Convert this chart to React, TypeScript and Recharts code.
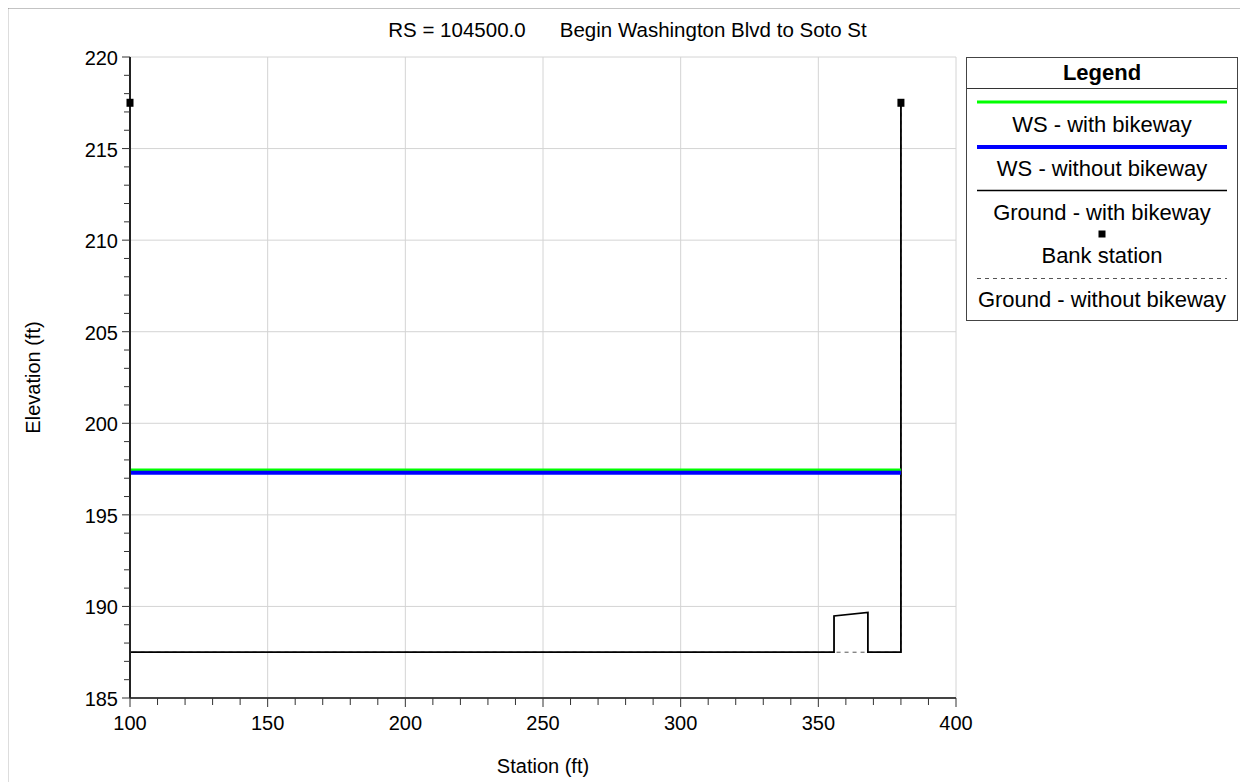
import React from 'react';
import { ComposedChart, Line, XAxis, YAxis, CartesianGrid, Label } from 'recharts';

const titleText = 'RS = 104500.0      Begin Washington Blvd to Soto St';
const xAxisTitle = 'Station (ft)';
const yAxisTitle = 'Elevation (ft)';

const xTicks = [100, 110, 120, 130, 140, 150, 160, 170, 180, 190, 200, 210, 220, 230, 240, 250, 260, 270, 280, 290, 300, 310, 320, 330, 340, 350, 360, 370, 380, 390, 400];
const yTicks = [185, 186, 187, 188, 189, 190, 191, 192, 193, 194, 195, 196, 197, 198, 199, 200, 201, 202, 203, 204, 205, 206, 207, 208, 209, 210, 211, 212, 213, 214, 215, 216, 217, 218, 219, 220];
const xGrid = [150, 200, 250, 300, 350, 400];
const yGrid = [190, 195, 200, 205, 210, 215, 220];

const groundWithStation = [100, 100, 355.7, 355.7, 368, 368, 380, 380];
const groundWithElev = [217.5, 187.5, 187.5, 189.48, 189.67, 187.5, 187.5, 217.5];
const groundWithoutStation = [100, 100, 380, 380];
const groundWithoutElev = [217.5, 187.5, 187.5, 217.5];
const wsStation = [100, 380];
const wsWithElev = [197.45, 197.45];
const wsWithoutElev = [197.3, 197.3];
const bankStation = [100, 380];
const bankElev = [217.5, 217.5];

const legendLabels = ['WS - with bikeway', 'WS - without bikeway', 'Ground - with bikeway', 'Bank station', 'Ground - without bikeway'];

const zip = (xs: number[], ys: number[]) => xs.map((x, i) => ({ x, y: ys[i] }));
const groundWith = zip(groundWithStation, groundWithElev);
const groundWithout = zip(groundWithoutStation, groundWithoutElev);
const wsWith = zip(wsStation, wsWithElev);
const wsWithout = zip(wsStation, wsWithoutElev);
const banks = zip(bankStation, bankElev);

const FONT = '"Liberation Sans", Arial, sans-serif';

const XTick = (props: any) => {
  const { x, y, payload } = props;
  const major = payload.value % 50 === 0;
  return (
    <g>
      <line x1={x} x2={x} y1={y} y2={y + (major ? 9 : 7)} stroke="#333" strokeWidth={1} />
      {major && (
        <text x={x} y={y + 32} textAnchor="middle" fontFamily={FONT} fontSize={20} fill="#000">
          {payload.value}
        </text>
      )}
    </g>
  );
};

const YTick = (props: any) => {
  const { x, y, payload } = props;
  const major = payload.value % 5 === 0;
  return (
    <g>
      <line x1={x} x2={x - (major ? 8 : 6)} y1={y} y2={y} stroke="#333" strokeWidth={1} />
      {major && (
        <text x={x - 12} y={y + 8} textAnchor="end" fontFamily={FONT} fontSize={20} fill="#000">
          {payload.value}
        </text>
      )}
    </g>
  );
};

const SquareDot = (props: any) => {
  const { cx, cy } = props;
  if (cx == null || cy == null) return null;
  return <rect x={cx - 3.5} y={cy - 4} width={7} height={8} fill="#000" />;
};

const Legend = () => {
  const w = 272;
  const c = w / 2;
  const t = { fontFamily: FONT, fontSize: 22, fill: '#000', textAnchor: 'middle' as const };
  return (
    <div style={{ position: 'absolute', left: 958, top: 49, width: w, height: 264, border: '1px solid #444', boxSizing: 'border-box', background: '#fff' }}>
      <svg width={w - 2} height={262} style={{ display: 'block' }}>
        <text x={c - 1} y={22} {...t} fontWeight="bold">Legend</text>
        <line x1={0} x2={w} y1={30.5} y2={30.5} stroke="#333" strokeWidth={1} />
        <line x1={10} x2={w - 12} y1={44} y2={44} stroke="#00ff00" strokeWidth={3} />
        <text x={c - 1} y={73.5} {...t}>{legendLabels[0]}</text>
        <line x1={10} x2={w - 12} y1={89} y2={89} stroke="#0000ff" strokeWidth={4} />
        <text x={c - 1} y={117.5} {...t}>{legendLabels[1]}</text>
        <line x1={10} x2={w - 12} y1={132.5} y2={132.5} stroke="#000" strokeWidth={1.5} />
        <text x={c - 1} y={161.5} {...t}>{legendLabels[2]}</text>
        <rect x={c - 4.5} y={172.5} width={7} height={7} fill="#000" />
        <text x={c - 1} y={204.5} {...t}>{legendLabels[3]}</text>
        <line x1={10} x2={w - 12} y1={220.5} y2={220.5} stroke="#555" strokeWidth={1} strokeDasharray="4 4" />
        <text x={c - 1} y={248.5} {...t}>{legendLabels[4]}</text>
      </svg>
    </div>
  );
};

export default function App() {
  return (
    <div style={{ position: 'relative', width: 1240, height: 774 }}>
      <div style={{ position: 'absolute', left: -1, top: 10, width: 1241, textAlign: 'center', fontFamily: FONT, fontSize: 20.5, whiteSpace: 'pre', color: '#000' }}>
        {titleText}
      </div>
      <div style={{ position: 'absolute', left: -1, top: -1 }}>
        <ComposedChart width={1241} height={775} margin={{ top: 50, right: 292, bottom: 24, left: 43 }}>
          <CartesianGrid horizontalValues={yGrid} verticalValues={xGrid} stroke="#d4d4d4" strokeWidth={1} />
          <XAxis
            type="number"
            dataKey="x"
            domain={[100, 400]}
            ticks={xTicks}
            interval={0}
            height={60}
            tickSize={0}
            tickMargin={0}
            tick={<XTick />}
            axisLine={{ stroke: '#444', strokeWidth: 2 }}
            tickLine={false}
          >
            <Label
              content={(p: any) => (
                <text x={p.viewBox.x + p.viewBox.width / 2} y={p.viewBox.y + 75} textAnchor="middle" fontFamily={FONT} fontSize={20} fill="#000">
                  {xAxisTitle}
                </text>
              )}
            />
          </XAxis>
          <YAxis
            type="number"
            dataKey="y"
            domain={[185, 220]}
            ticks={yTicks}
            interval={0}
            width={80}
            tickSize={0}
            tickMargin={0}
            tick={<YTick />}
            axisLine={{ stroke: '#222', strokeWidth: 2 }}
            tickLine={false}
          >
            <Label
              content={(p: any) => {
                const cx = p.viewBox.x - 17;
                const cy = p.viewBox.y + p.viewBox.height / 2;
                return (
                  <text x={cx} y={cy} transform={`rotate(-90 ${cx} ${cy})`} textAnchor="middle" dominantBaseline="central" fontFamily={FONT} fontSize={20} fill="#000">
                    {yAxisTitle}
                  </text>
                );
              }}
            />
          </YAxis>
          <Line data={groundWithout} dataKey="y" type="linear" stroke="#555" strokeWidth={1} strokeDasharray="4 4" dot={false} activeDot={false} isAnimationActive={false} />
          <Line data={groundWith} dataKey="y" type="linear" stroke="#000" strokeWidth={1.8} dot={false} activeDot={false} isAnimationActive={false} />
          <Line data={wsWith} dataKey="y" type="linear" stroke="#00ff00" strokeWidth={3} dot={false} activeDot={false} isAnimationActive={false} />
          <Line data={wsWithout} dataKey="y" type="linear" stroke="#0000ff" strokeWidth={4} dot={false} activeDot={false} isAnimationActive={false} />
          <Line data={banks} dataKey="y" type="linear" stroke="none" dot={<SquareDot />} activeDot={false} isAnimationActive={false} />
        </ComposedChart>
      </div>
      <Legend />
      <svg width={1248} height={782} style={{ position: 'absolute', left: -8, top: -8, pointerEvents: 'none', zIndex: 5 }}>
        <line x1={7.5} x2={7.5} y1={7} y2={782} stroke="#777" strokeWidth={1.5} />
        <line x1={7} x2={1248} y1={7.5} y2={7.5} stroke="#111" strokeWidth={1.5} />
      </svg>
    </div>
  );
}
